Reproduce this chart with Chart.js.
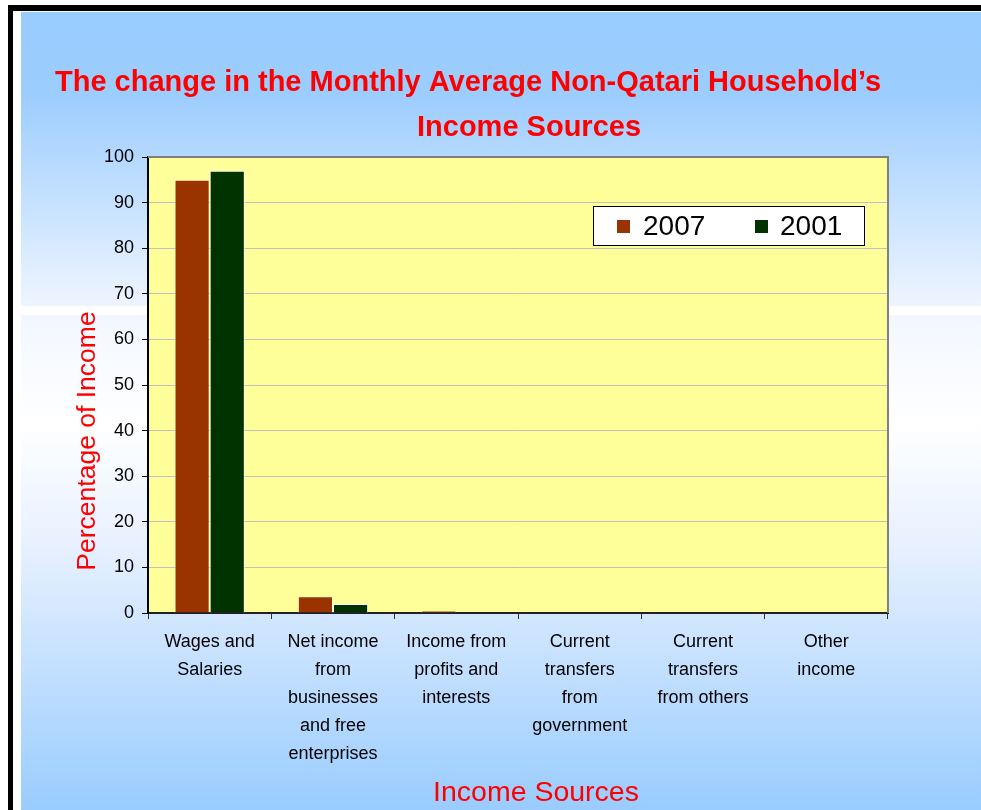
<!DOCTYPE html>
<html>
<head>
<meta charset="utf-8">
<script src="https://cdn.jsdelivr.net/npm/chart.js@4/dist/chart.umd.min.js"></script>
<style>
  html, body { margin: 0; padding: 0; background: #fff; }
  #chart { display: block; }
</style>
</head>
<body>
<canvas id="chart" width="981" height="810"></canvas>
<script>
// categories and series
const categories = [
  ['Wages and', 'Salaries'],
  ['Net income', 'from', 'businesses', 'and free', 'enterprises'],
  ['Income from', 'profits and', 'interests'],
  ['Current', 'transfers', 'from', 'government'],
  ['Current', 'transfers', 'from others'],
  ['Other', 'income']
];
const values2007 = [95, 3.7, 0.5, 0, 0, 0];
const values2001 = [97, 2, 0.1, 0, 0.1, 0];
const yTicks = [0, 10, 20, 30, 40, 50, 60, 70, 80, 90, 100];

const titleLines = ['The change in the Monthly Average Non-Qatari Household\u2019s', 'Income Sources'];
const yTitle = 'Percentage of Income';
const xTitle = 'Income Sources';

// slide background, plot fill, titles and legend
const decor = {
  id: 'decor',
  beforeDraw(chart) {
    const ctx = chart.ctx;
    const W = chart.width, H = chart.height;
    ctx.save();
    ctx.fillStyle = '#ffffff';
    ctx.fillRect(0, 0, W, H);
    ctx.fillStyle = '#000000';
    ctx.fillRect(8, 5, W - 8, 6);
    ctx.fillRect(8, 5, 5, H - 5);

    let g = ctx.createLinearGradient(0, 12, 0, 306);
    g.addColorStop(0, '#99ccff');
    g.addColorStop(0.28, '#9ccdff');
    g.addColorStop(1, '#eef5ff');
    ctx.fillStyle = g;
    ctx.fillRect(21, 12, W - 21, 294);

    g = ctx.createLinearGradient(0, 315, 0, H);
    g.addColorStop(0, '#f2f7ff');
    g.addColorStop(0.22, '#ffffff');
    g.addColorStop(0.46, '#e8f1ff');
    g.addColorStop(1, '#99ccff');
    ctx.fillStyle = g;
    ctx.fillRect(21, 315, W - 21, H - 315);

    const a = chart.chartArea;
    ctx.fillStyle = '#ffff99';
    ctx.fillRect(a.left, a.top, a.right - a.left, a.bottom - a.top);
    ctx.restore();
  },
  afterDraw(chart) {
    const ctx = chart.ctx;
    const a = chart.chartArea;
    ctx.save();
    // top and right frame
    ctx.strokeStyle = '#808080';
    ctx.lineWidth = 2;
    ctx.beginPath();
    ctx.moveTo(a.left, a.top);
    ctx.lineTo(a.right, a.top);
    ctx.lineTo(a.right, a.bottom);
    ctx.stroke();

    // titles
    ctx.fillStyle = '#ff0000';
    ctx.textAlign = 'center';
    ctx.textBaseline = 'middle';
    ctx.font = 'bold 29px Arial, "Liberation Sans", sans-serif';
    ctx.fillText(titleLines[0], 468, 83);
    ctx.fillText(titleLines[1], 529, 128);

    ctx.font = '28.5px Arial, "Liberation Sans", sans-serif';
    ctx.fillText(xTitle, 536, 793);
    ctx.font = '26.5px Arial, "Liberation Sans", sans-serif';
    ctx.translate(88, 441);
    ctx.rotate(-Math.PI / 2);
    ctx.fillText(yTitle, 0, 0);
    ctx.setTransform(1, 0, 0, 1, 0, 0);

    // legend box
    ctx.fillStyle = '#ffffff';
    ctx.fillRect(593, 206, 271, 39);
    ctx.strokeStyle = '#000000';
    ctx.lineWidth = 1;
    ctx.strokeRect(593.5, 206.5, 271, 39);
    ctx.textAlign = 'left';
    ctx.font = '28px Arial, "Liberation Sans", sans-serif';
    const items = [[617, 643], [755, 780]];
    chart.data.datasets.forEach((ds, i) => {
      ctx.fillStyle = ds.backgroundColor;
      ctx.fillRect(items[i][0], 220, 13, 13);
      ctx.fillStyle = '#000000';
      ctx.fillText(ds.label, items[i][1], 227);
    });
    ctx.restore();
  }
};

new Chart(document.getElementById('chart'), {
  type: 'bar',
  data: {
    labels: categories,
    datasets: [{
      label: '2007',
      data: values2007,
      backgroundColor: '#993300',
      borderColor: 'rgba(255,255,255,0.6)',
      borderWidth: 1,
      categoryPercentage: 0.57,
      barPercentage: 1.0
    }, {
      label: '2001',
      data: values2001,
      backgroundColor: '#003300',
      borderColor: '#ffffff',
      borderWidth: 1,
      categoryPercentage: 0.57,
      barPercentage: 1.0
    }]
  },
  options: {
    responsive: false,
    devicePixelRatio: 1,
    animation: false,
    layout: { padding: { top: 157, right: 93, left: 0, bottom: 0 } },
    plugins: {
      legend: { display: false },
      title: { display: false },
      tooltip: { enabled: false }
    },
    scales: {
      x: {
        afterFit(scale) { scale.height = 197; },
        grid: { offset: true, drawOnChartArea: false, tickColor: '#333333', tickLength: 6 },
        border: { color: '#222222', width: 2 },
        ticks: {
          color: '#000000',
          padding: 9,
          maxRotation: 0,
          autoSkip: false,
          font: { family: 'Arial, "Liberation Sans", sans-serif', size: 18, lineHeight: 1.55 }
        }
      },
      y: {
        min: 0,
        max: 100,
        afterFit(scale) { scale.width = 148; },
        afterBuildTicks(scale) { scale.ticks = yTicks.map(v => ({ value: v })); },
        grid: { color: '#c0c0c0', tickColor: '#000000', tickLength: 6 },
        border: { color: '#000000', width: 2 },
        ticks: {
          color: '#000000',
          padding: 8,
          font: { family: 'Arial, "Liberation Sans", sans-serif', size: 18 }
        }
      }
    }
  },
  plugins: [decor]
});
</script>
</body>
</html>
